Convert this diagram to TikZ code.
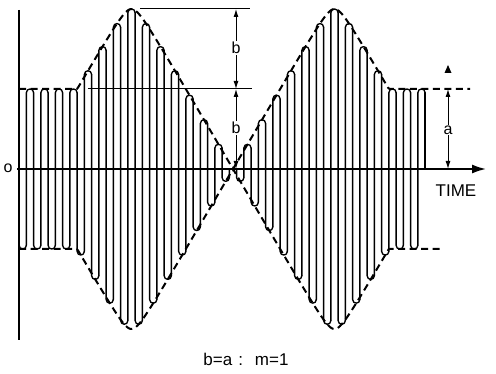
\documentclass[tikz,border=0pt]{standalone}
\usepackage{fontspec}
\setmainfont{Liberation Sans}
\usetikzlibrary{arrows.meta}
\begin{document}
\begin{tikzpicture}[x=1pt,y=-1pt,
  declare function={
    clampu(\u)=min(abs(\u),110);
    hump(\u)=173.65-1.7056*sqrt(clampu(\u)*clampu(\u)+64);
    envl(\x)=(\x<131.5) ? max(80,hump(131.5-\x)) :
             ((\x<233) ? hump(\x-131.5) :
             ((\x<334.5) ? hump(334.5-\x) : max(80,hump(\x-334.5))));
  },
  axis/.style={line width=2.8pt},
  envline/.style={line width=2pt, dash pattern=on 7pt off 4.5pt},
  carrier/.style={line width=1.35pt, line join=round, line cap=round},
  dimline/.style={line width=1pt},
  dimarrow/.style={line width=1pt, {Latex[length=8pt,width=5pt]}-{Latex[length=8pt,width=5pt]}},
  lbl/.style={font=\fontsize{16}{16}\selectfont, inner sep=1pt, fill=white}]
\useasboundingbox (0,0) rectangle (496,374);
% axes
\coordinate (axtop) at (19,10);
\coordinate (axbot) at (19,340);
\coordinate (xstart) at (17,169);
\coordinate (xend) at (487,169);
\draw[axis] (axtop) -- (axbot);
% carrier: vertical strokes joined by rounded loops touching the envelope
\foreach \j in {-1,...,54}{
  \pgfmathsetmacro{\xl}{30+7.25*\j-3.625}
  \pgfmathsetmacro{\xr}{\xl+7.25}
  \pgfmathsetmacro{\sg}{ifthenelse(isodd(\j),-1,1)}
  \pgfmathsetmacro{\E}{envl(\xl+3.625)}
  \pgfmathsetmacro{\ry}{min(3.625,0.5*\E)}
  \pgfmathsetmacro{\Ya}{169-(\sg)*(\E)}
  \pgfmathsetmacro{\Yb}{169-(\sg)*(\E-\ry)}
  \pgfmathsetmacro{\Yc}{(4*\Ya-\Yb)/3}
  \pgfmathsetmacro{\Ep}{envl(\xl-3.625)}
  \pgfmathsetmacro{\ryp}{min(3.625,0.5*\Ep)}
  \pgfmathsetmacro{\Ybp}{ifthenelse(\j<0,169,169+(\sg)*(\Ep-\ryp))}
  \draw[carrier] (\xl,\Ybp) -- (\xl,\Yb) .. controls (\xl,\Yc) and (\xr,\Yc) .. (\xr,\Yb);
}
\coordinate (cend1) at (425.125,92.625);
\coordinate (cend2) at (425.125,169);
\draw[carrier] (cend1) -- (cend2);
% envelope
\draw[envline] plot[domain=19:233, samples=160] (\x,{169-envl(\x)}) -- plot[domain=233:443, samples=160] (\x,{169+envl(\x)});
\draw[envline] plot[domain=19:233, samples=160] (\x,{169+envl(\x)}) -- plot[domain=233:470, samples=160] (\x,{169-envl(\x)});
\draw[axis, -{Latex[length=15pt,width=9pt]}] (xstart) -- (xend);
% dimension lines
\coordinate (top1) at (140,9);
\coordinate (top2) at (250,9);
\coordinate (mid1) at (88,89);
\coordinate (mid2) at (252,89);
\draw[dimline] (top1) -- (top2);
\draw[dimline] (mid1) -- (mid2);
\coordinate (d0) at (236,9);
\coordinate (d1) at (236,89);
\coordinate (d2) at (236,169);
\draw[dimarrow] (d0) -- (d1);
\draw[dimarrow] (d1) -- (d2);
\node[lbl] (b1) at (236,48) {b};
\node[lbl] (b2) at (236,128) {b};
\coordinate (r1) at (448,89);
\coordinate (r2) at (448,169);
\draw[dimarrow] (r1) -- (r2);
\node[lbl] (alabel) at (448,130) {a};
\fill (444.5,73) -- (451.5,73) -- (448,65) -- cycle;
% labels
\node[lbl] (origin) at (8,168) {o};
\node[lbl, font=\fontsize{17}{17}\selectfont] (time) at (456,191) {TIME};
\node[lbl, font=\fontsize{17}{17}\selectfont] (caption) at (246,359) {b=a\hspace{6pt}:\hspace{12pt}m=1};
\end{tikzpicture}
\end{document}
